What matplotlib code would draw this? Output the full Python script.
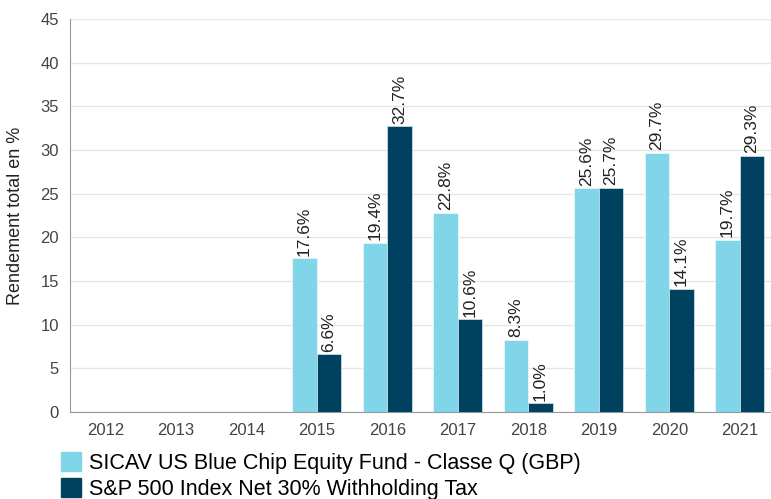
import matplotlib
matplotlib.use("Agg")
import matplotlib.pyplot as plt
import numpy as np
from matplotlib.patches import Patch

years = ["2012", "2013", "2014", "2015", "2016", "2017", "2018", "2019", "2020", "2021"]
fund = [None, None, None, 17.6, 19.4, 22.8, 8.3, 25.6, 29.7, 19.7]
index = [None, None, None, 6.6, 32.7, 10.6, 1.0, 25.7, 14.1, 29.3]
fund_name = "SICAV US Blue Chip Equity Fund - Classe Q (GBP)"
index_name = "S&P 500 Index Net 30% Withholding Tax"
yticks = [0, 5, 10, 15, 20, 25, 30, 35, 40, 45]

c_fund = "#80d5e8"
c_index = "#00415f"

plt.rcParams['font.family'] = ['Liberation Sans', 'DejaVu Sans']
fig = plt.figure(figsize=(7.71, 4.99), dpi=100)
left, right, top, bottom = 70, 775, 19, 412
ax = fig.add_axes([left/771, 1 - bottom/499, (right-left)/771, (bottom-top)/499])

x = np.arange(len(years))
w = 0.346
for i in range(len(years)):
    if fund[i] is not None:
        ax.bar(x[i] - w/2, fund[i], w, color=c_fund, edgecolor="#e8f7fb", linewidth=0.6, zorder=3)
        ax.text(x[i] - w/2, fund[i] + 0.3, f"{fund[i]:.1f}%", rotation=90, ha="center", va="bottom",
                fontsize=12.5, color="#222222")
    if index[i] is not None:
        ax.bar(x[i] + w/2, index[i], w, color=c_index, edgecolor="#c9dbe4", linewidth=0.6, zorder=3)
        ax.text(x[i] + w/2, index[i] + 0.3, f"{index[i]:.1f}%", rotation=90, ha="center", va="bottom",
                fontsize=12.5, color="#222222")

ax.set_xlim(-0.5, len(years) - 0.5)
ax.set_ylim(0, 45)
ax.set_yticks(yticks)
ax.set_yticklabels([str(t) for t in yticks], fontsize=12, color="#444444")
ax.set_xticks(x)
ax.set_xticklabels(years, fontsize=12, color="#444444")
ax.tick_params(axis="y", length=0, pad=8)
ax.tick_params(axis="x", length=0, pad=8)
ax.yaxis.grid(True, color="#e6e6e6", linewidth=1, zorder=0)
ax.set_axisbelow(True)
for s in ["top", "right"]:
    ax.spines[s].set_visible(False)
ax.spines["left"].set_color("#999999")
ax.spines["bottom"].set_color("#999999")
ax.set_ylabel("Rendement total en %", fontsize=13, color="#222222", labelpad=12)

handles = [Patch(color=c_fund, label=fund_name), Patch(color=c_index, label=index_name)]
fig.legend(handles=handles, loc="upper left", bbox_to_anchor=(61/771, 1 - 452/499), frameon=False,
           fontsize=15.5, handlelength=0.95, handleheight=0.95, handletextpad=0.35, labelspacing=0.2,
           borderaxespad=0, borderpad=0)

fig.savefig("out.png", dpi=100)
